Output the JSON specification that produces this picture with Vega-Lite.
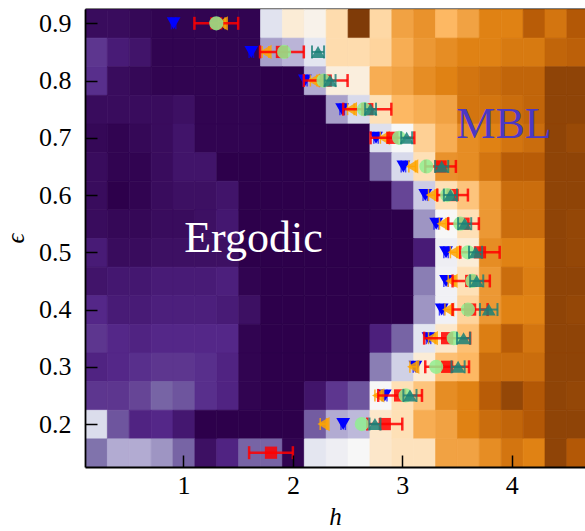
{
  "$schema": "https://vega.github.io/schema/vega-lite/v6.json",
  "width": 500,
  "height": 458,
  "autosize": {"type": "none"},
  "padding": {"left": 85, "top": 9, "right": 0, "bottom": 64},
  "config": {
    "view": {"stroke": null},
    "axis": {"grid": false, "labelFont": "Liberation Serif", "titleFont": "Liberation Serif", "labelFontSize": 26, "titleFontSize": 25, "labelColor": "black", "tickColor": "black", "domainColor": "black", "tickWidth": 1.5, "domainWidth": 1.8, "titleFontWeight": "normal"}
  },
  "datasets": {
    "pts": [
      {"s":"blue","e":0.9,"h":0.91,"err":0.02},{"s":"blue","e":0.85,"h":1.62,"err":0.02},{"s":"blue","e":0.8,"h":2.11,"err":0.02},{"s":"blue","e":0.75,"h":2.45,"err":0.02},{"s":"blue","e":0.7,"h":2.76,"err":0.02},{"s":"blue","e":0.65,"h":3.01,"err":0.02},{"s":"blue","e":0.6,"h":3.21,"err":0.02},{"s":"blue","e":0.55,"h":3.31,"err":0.02},{"s":"blue","e":0.5,"h":3.40,"err":0.02},{"s":"blue","e":0.45,"h":3.40,"err":0.02},{"s":"blue","e":0.4,"h":3.36,"err":0.02},{"s":"blue","e":0.35,"h":3.24,"err":0.02},{"s":"blue","e":0.3,"h":3.12,"err":0.02},{"s":"blue","e":0.25,"h":2.84,"err":0.02},{"s":"blue","e":0.2,"h":2.46,"err":0.02},
      {"s":"orange","e":0.9,"h":1.35,"err":0.03},{"s":"orange","e":0.85,"h":1.75,"err":0.03},{"s":"orange","e":0.8,"h":2.19,"err":0.03},{"s":"orange","e":0.75,"h":2.53,"err":0.03},{"s":"orange","e":0.7,"h":2.83,"err":0.03},{"s":"orange","e":0.65,"h":3.09,"err":0.03},{"s":"orange","e":0.6,"h":3.27,"err":0.03},{"s":"orange","e":0.55,"h":3.37,"err":0.03},{"s":"orange","e":0.5,"h":3.47,"err":0.03},{"s":"orange","e":0.45,"h":3.45,"err":0.03},{"s":"orange","e":0.4,"h":3.42,"err":0.03},{"s":"orange","e":0.35,"h":3.27,"err":0.03},{"s":"orange","e":0.3,"h":3.10,"err":0.03},{"s":"orange","e":0.25,"h":2.78,"err":0.03},{"s":"orange","e":0.2,"h":2.28,"err":0.03},
      {"s":"red","e":0.9,"h":1.30,"err":0.2},{"s":"red","e":0.85,"h":1.90,"err":0.2},{"s":"red","e":0.8,"h":2.30,"err":0.2},{"s":"red","e":0.75,"h":2.68,"err":0.22},{"s":"red","e":0.7,"h":2.91,"err":0.2},{"s":"red","e":0.65,"h":3.35,"err":0.14},{"s":"red","e":0.6,"h":3.46,"err":0.14},{"s":"red","e":0.55,"h":3.56,"err":0.14},{"s":"red","e":0.5,"h":3.71,"err":0.18},{"s":"red","e":0.45,"h":3.63,"err":0.17},{"s":"red","e":0.4,"h":3.62,"err":0.16},{"s":"red","e":0.35,"h":3.41,"err":0.21},{"s":"red","e":0.3,"h":3.41,"err":0.2},{"s":"red","e":0.25,"h":2.98,"err":0.2},{"s":"red","e":0.2,"h":2.84,"err":0.16},{"s":"red","e":0.15,"h":1.80,"err":0.2},
      {"s":"green","e":0.9,"h":1.30},{"s":"green","e":0.85,"h":1.92},{"s":"green","e":0.8,"h":2.28},{"s":"green","e":0.75,"h":2.65},{"s":"green","e":0.7,"h":2.97},{"s":"green","e":0.65,"h":3.22},{"s":"green","e":0.6,"h":3.41},{"s":"green","e":0.55,"h":3.53},{"s":"green","e":0.5,"h":3.60},{"s":"green","e":0.45,"h":3.64},{"s":"green","e":0.4,"h":3.60},{"s":"green","e":0.35,"h":3.47},{"s":"green","e":0.3,"h":3.31},{"s":"green","e":0.25,"h":3.03},{"s":"green","e":0.2,"h":2.63},
      {"s":"teal","e":0.85,"h":2.23,"err":0.055},{"s":"teal","e":0.8,"h":2.34,"err":0.05},{"s":"teal","e":0.75,"h":2.71,"err":0.05},{"s":"teal","e":0.7,"h":3.04,"err":0.05},{"s":"teal","e":0.65,"h":3.36,"err":0.06},{"s":"teal","e":0.6,"h":3.44,"err":0.06},{"s":"teal","e":0.55,"h":3.57,"err":0.06},{"s":"teal","e":0.5,"h":3.67,"err":0.06},{"s":"teal","e":0.45,"h":3.68,"err":0.06},{"s":"teal","e":0.4,"h":3.79,"err":0.08},{"s":"teal","e":0.35,"h":3.56,"err":0.06},{"s":"teal","e":0.3,"h":3.51,"err":0.06},{"s":"teal","e":0.25,"h":3.07,"err":0.06},{"s":"teal","e":0.2,"h":2.75,"err":0.05}
    ],
    "labels": [
      {"label":"Ergodic","h":1.64,"e":0.5,"c":"w"},
      {"label":"MBL","h":3.93,"e":0.7,"c":"b"}
    ],
    "cells": [
{"e":0.9,"h":0.2,"v":0.03},{"e":0.9,"h":0.4,"v":0.03},{"e":0.9,"h":0.6,"v":0.02},{"e":0.9,"h":0.8,"v":0.01},{"e":0.9,"h":1.0,"v":0.01},{"e":0.9,"h":1.2,"v":0.01},{"e":0.9,"h":1.4,"v":0.01},{"e":0.9,"h":1.6,"v":0.01},{"e":0.9,"h":1.8,"v":0.43},{"e":0.9,"h":2.0,"v":0.55},{"e":0.9,"h":2.2,"v":0.52},{"e":0.9,"h":2.4,"v":0.61},{"e":0.9,"h":2.6,"v":1.0},{"e":0.9,"h":2.8,"v":0.62},{"e":0.9,"h":3.0,"v":0.74},{"e":0.9,"h":3.2,"v":0.77},{"e":0.9,"h":3.4,"v":0.70},{"e":0.9,"h":3.6,"v":0.74},{"e":0.9,"h":3.8,"v":0.80},{"e":0.9,"h":4.0,"v":0.80},{"e":0.9,"h":4.2,"v":0.89},{"e":0.9,"h":4.4,"v":0.83},{"e":0.9,"h":4.6,"v":0.90},
{"e":0.85,"h":0.2,"v":0.12},{"e":0.85,"h":0.4,"v":0.07},{"e":0.85,"h":0.6,"v":0.05},{"e":0.85,"h":0.8,"v":0.01},{"e":0.85,"h":1.0,"v":0.01},{"e":0.85,"h":1.2,"v":0.01},{"e":0.85,"h":1.4,"v":0.01},{"e":0.85,"h":1.6,"v":0.01},{"e":0.85,"h":1.8,"v":0.28},{"e":0.85,"h":2.0,"v":0.32},{"e":0.85,"h":2.2,"v":0.44},{"e":0.85,"h":2.4,"v":0.61},{"e":0.85,"h":2.6,"v":0.61},{"e":0.85,"h":2.8,"v":0.63},{"e":0.85,"h":3.0,"v":0.72},{"e":0.85,"h":3.2,"v":0.76},{"e":0.85,"h":3.4,"v":0.78},{"e":0.85,"h":3.6,"v":0.80},{"e":0.85,"h":3.8,"v":0.80},{"e":0.85,"h":4.0,"v":0.82},{"e":0.85,"h":4.2,"v":0.82},{"e":0.85,"h":4.4,"v":0.87},{"e":0.85,"h":4.6,"v":0.88},
{"e":0.8,"h":0.2,"v":0.11},{"e":0.8,"h":0.4,"v":0.03},{"e":0.8,"h":0.6,"v":0.02},{"e":0.8,"h":0.8,"v":0.01},{"e":0.8,"h":1.0,"v":0.01},{"e":0.8,"h":1.2,"v":0.01},{"e":0.8,"h":1.4,"v":0.01},{"e":0.8,"h":1.6,"v":0.01},{"e":0.8,"h":1.8,"v":0.0},{"e":0.8,"h":2.0,"v":0.0},{"e":0.8,"h":2.2,"v":0.30},{"e":0.8,"h":2.4,"v":0.54},{"e":0.8,"h":2.6,"v":0.54},{"e":0.8,"h":2.8,"v":0.72},{"e":0.8,"h":3.0,"v":0.74},{"e":0.8,"h":3.2,"v":0.78},{"e":0.8,"h":3.4,"v":0.80},{"e":0.8,"h":3.6,"v":0.83},{"e":0.8,"h":3.8,"v":0.85},{"e":0.8,"h":4.0,"v":0.87},{"e":0.8,"h":4.2,"v":0.87},{"e":0.8,"h":4.4,"v":0.97},{"e":0.8,"h":4.6,"v":0.97},
{"e":0.75,"h":0.2,"v":0.03},{"e":0.75,"h":0.4,"v":0.03},{"e":0.75,"h":0.6,"v":0.03},{"e":0.75,"h":0.8,"v":0.03},{"e":0.75,"h":1.0,"v":0.04},{"e":0.75,"h":1.2,"v":0.01},{"e":0.75,"h":1.4,"v":0.01},{"e":0.75,"h":1.6,"v":0.01},{"e":0.75,"h":1.8,"v":0.0},{"e":0.75,"h":2.0,"v":0.0},{"e":0.75,"h":2.2,"v":0.0},{"e":0.75,"h":2.4,"v":0.28},{"e":0.75,"h":2.6,"v":0.40},{"e":0.75,"h":2.8,"v":0.60},{"e":0.75,"h":3.0,"v":0.70},{"e":0.75,"h":3.2,"v":0.72},{"e":0.75,"h":3.4,"v":0.74},{"e":0.75,"h":3.6,"v":0.83},{"e":0.75,"h":3.8,"v":0.83},{"e":0.75,"h":4.0,"v":0.85},{"e":0.75,"h":4.2,"v":0.87},{"e":0.75,"h":4.4,"v":0.97},{"e":0.75,"h":4.6,"v":0.97},
{"e":0.7,"h":0.2,"v":0.02},{"e":0.7,"h":0.4,"v":0.01},{"e":0.7,"h":0.6,"v":0.02},{"e":0.7,"h":0.8,"v":0.03},{"e":0.7,"h":1.0,"v":0.05},{"e":0.7,"h":1.2,"v":0.01},{"e":0.7,"h":1.4,"v":0.01},{"e":0.7,"h":1.6,"v":0.01},{"e":0.7,"h":1.8,"v":0.0},{"e":0.7,"h":2.0,"v":0.0},{"e":0.7,"h":2.2,"v":0.0},{"e":0.7,"h":2.4,"v":0.0},{"e":0.7,"h":2.6,"v":0.0},{"e":0.7,"h":2.8,"v":0.42},{"e":0.7,"h":3.0,"v":0.50},{"e":0.7,"h":3.2,"v":0.64},{"e":0.7,"h":3.4,"v":0.72},{"e":0.7,"h":3.6,"v":0.78},{"e":0.7,"h":3.8,"v":0.80},{"e":0.7,"h":4.0,"v":0.83},{"e":0.7,"h":4.2,"v":0.85},{"e":0.7,"h":4.4,"v":0.97},{"e":0.7,"h":4.6,"v":0.95},
{"e":0.65,"h":0.2,"v":0.03},{"e":0.65,"h":0.4,"v":0.01},{"e":0.65,"h":0.6,"v":0.01},{"e":0.65,"h":0.8,"v":0.03},{"e":0.65,"h":1.0,"v":0.05},{"e":0.65,"h":1.2,"v":0.05},{"e":0.65,"h":1.4,"v":0.0},{"e":0.65,"h":1.6,"v":0.0},{"e":0.65,"h":1.8,"v":0.0},{"e":0.65,"h":2.0,"v":0.0},{"e":0.65,"h":2.2,"v":0.0},{"e":0.65,"h":2.4,"v":0.0},{"e":0.65,"h":2.6,"v":0.0},{"e":0.65,"h":2.8,"v":0.19},{"e":0.65,"h":3.0,"v":0.40},{"e":0.65,"h":3.2,"v":0.60},{"e":0.65,"h":3.4,"v":0.77},{"e":0.65,"h":3.6,"v":0.78},{"e":0.65,"h":3.8,"v":0.83},{"e":0.65,"h":4.0,"v":0.89},{"e":0.65,"h":4.2,"v":0.89},{"e":0.65,"h":4.4,"v":0.97},{"e":0.65,"h":4.6,"v":0.97},
{"e":0.6,"h":0.2,"v":0.03},{"e":0.6,"h":0.4,"v":0.0},{"e":0.6,"h":0.6,"v":0.01},{"e":0.6,"h":0.8,"v":0.03},{"e":0.6,"h":1.0,"v":0.04},{"e":0.6,"h":1.2,"v":0.04},{"e":0.6,"h":1.4,"v":0.05},{"e":0.6,"h":1.6,"v":0.0},{"e":0.6,"h":1.8,"v":0.0},{"e":0.6,"h":2.0,"v":0.0},{"e":0.6,"h":2.2,"v":0.0},{"e":0.6,"h":2.4,"v":0.0},{"e":0.6,"h":2.6,"v":0.0},{"e":0.6,"h":2.8,"v":0.0},{"e":0.6,"h":3.0,"v":0.14},{"e":0.6,"h":3.2,"v":0.37},{"e":0.6,"h":3.4,"v":0.60},{"e":0.6,"h":3.6,"v":0.67},{"e":0.6,"h":3.8,"v":0.76},{"e":0.6,"h":4.0,"v":0.85},{"e":0.6,"h":4.2,"v":0.85},{"e":0.6,"h":4.4,"v":0.97},{"e":0.6,"h":4.6,"v":0.97},
{"e":0.55,"h":0.2,"v":0.03},{"e":0.55,"h":0.4,"v":0.02},{"e":0.55,"h":0.6,"v":0.02},{"e":0.55,"h":0.8,"v":0.03},{"e":0.55,"h":1.0,"v":0.03},{"e":0.55,"h":1.2,"v":0.04},{"e":0.55,"h":1.4,"v":0.06},{"e":0.55,"h":1.6,"v":0.0},{"e":0.55,"h":1.8,"v":0.0},{"e":0.55,"h":2.0,"v":0.0},{"e":0.55,"h":2.2,"v":0.0},{"e":0.55,"h":2.4,"v":0.0},{"e":0.55,"h":2.6,"v":0.0},{"e":0.55,"h":2.8,"v":0.0},{"e":0.55,"h":3.0,"v":0.0},{"e":0.55,"h":3.2,"v":0.26},{"e":0.55,"h":3.4,"v":0.50},{"e":0.55,"h":3.6,"v":0.60},{"e":0.55,"h":3.8,"v":0.76},{"e":0.55,"h":4.0,"v":0.85},{"e":0.55,"h":4.2,"v":0.85},{"e":0.55,"h":4.4,"v":0.97},{"e":0.55,"h":4.6,"v":0.96},
{"e":0.5,"h":0.2,"v":0.07},{"e":0.5,"h":0.4,"v":0.03},{"e":0.5,"h":0.6,"v":0.03},{"e":0.5,"h":0.8,"v":0.04},{"e":0.5,"h":1.0,"v":0.04},{"e":0.5,"h":1.2,"v":0.04},{"e":0.5,"h":1.4,"v":0.04},{"e":0.5,"h":1.6,"v":0.0},{"e":0.5,"h":1.8,"v":0.0},{"e":0.5,"h":2.0,"v":0.0},{"e":0.5,"h":2.2,"v":0.0},{"e":0.5,"h":2.4,"v":0.0},{"e":0.5,"h":2.6,"v":0.0},{"e":0.5,"h":2.8,"v":0.0},{"e":0.5,"h":3.0,"v":0.0},{"e":0.5,"h":3.2,"v":0.07},{"e":0.5,"h":3.4,"v":0.47},{"e":0.5,"h":3.6,"v":0.55},{"e":0.5,"h":3.8,"v":0.78},{"e":0.5,"h":4.0,"v":0.80},{"e":0.5,"h":4.2,"v":0.80},{"e":0.5,"h":4.4,"v":0.97},{"e":0.5,"h":4.6,"v":0.96},
{"e":0.45,"h":0.2,"v":0.05},{"e":0.45,"h":0.4,"v":0.06},{"e":0.45,"h":0.6,"v":0.06},{"e":0.45,"h":0.8,"v":0.07},{"e":0.45,"h":1.0,"v":0.07},{"e":0.45,"h":1.2,"v":0.07},{"e":0.45,"h":1.4,"v":0.08},{"e":0.45,"h":1.6,"v":0.01},{"e":0.45,"h":1.8,"v":0.0},{"e":0.45,"h":2.0,"v":0.0},{"e":0.45,"h":2.2,"v":0.0},{"e":0.45,"h":2.4,"v":0.0},{"e":0.45,"h":2.6,"v":0.0},{"e":0.45,"h":2.8,"v":0.0},{"e":0.45,"h":3.0,"v":0.0},{"e":0.45,"h":3.2,"v":0.22},{"e":0.45,"h":3.4,"v":0.48},{"e":0.45,"h":3.6,"v":0.60},{"e":0.45,"h":3.8,"v":0.76},{"e":0.45,"h":4.0,"v":0.85},{"e":0.45,"h":4.2,"v":0.81},{"e":0.45,"h":4.4,"v":0.97},{"e":0.45,"h":4.6,"v":0.97},
{"e":0.4,"h":0.2,"v":0.10},{"e":0.4,"h":0.4,"v":0.07},{"e":0.4,"h":0.6,"v":0.07},{"e":0.4,"h":0.8,"v":0.08},{"e":0.4,"h":1.0,"v":0.08},{"e":0.4,"h":1.2,"v":0.08},{"e":0.4,"h":1.4,"v":0.07},{"e":0.4,"h":1.6,"v":0.04},{"e":0.4,"h":1.8,"v":0.0},{"e":0.4,"h":2.0,"v":0.0},{"e":0.4,"h":2.2,"v":0.0},{"e":0.4,"h":2.4,"v":0.0},{"e":0.4,"h":2.6,"v":0.0},{"e":0.4,"h":2.8,"v":0.0},{"e":0.4,"h":3.0,"v":0.0},{"e":0.4,"h":3.2,"v":0.26},{"e":0.4,"h":3.4,"v":0.48},{"e":0.4,"h":3.6,"v":0.63},{"e":0.4,"h":3.8,"v":0.76},{"e":0.4,"h":4.0,"v":0.80},{"e":0.4,"h":4.2,"v":0.80},{"e":0.4,"h":4.4,"v":0.97},{"e":0.4,"h":4.6,"v":0.96},
{"e":0.35,"h":0.2,"v":0.12},{"e":0.35,"h":0.4,"v":0.10},{"e":0.35,"h":0.6,"v":0.09},{"e":0.35,"h":0.8,"v":0.10},{"e":0.35,"h":1.0,"v":0.10},{"e":0.35,"h":1.2,"v":0.10},{"e":0.35,"h":1.4,"v":0.10},{"e":0.35,"h":1.6,"v":0.01},{"e":0.35,"h":1.8,"v":0.0},{"e":0.35,"h":2.0,"v":0.0},{"e":0.35,"h":2.2,"v":0.0},{"e":0.35,"h":2.4,"v":0.0},{"e":0.35,"h":2.6,"v":0.0},{"e":0.35,"h":2.8,"v":0.08},{"e":0.35,"h":3.0,"v":0.18},{"e":0.35,"h":3.2,"v":0.44},{"e":0.35,"h":3.4,"v":0.57},{"e":0.35,"h":3.6,"v":0.68},{"e":0.35,"h":3.8,"v":0.81},{"e":0.35,"h":4.0,"v":0.89},{"e":0.35,"h":4.2,"v":0.83},{"e":0.35,"h":4.4,"v":0.97},{"e":0.35,"h":4.6,"v":0.97},
{"e":0.3,"h":0.2,"v":0.09},{"e":0.3,"h":0.4,"v":0.10},{"e":0.3,"h":0.6,"v":0.11},{"e":0.3,"h":0.8,"v":0.12},{"e":0.3,"h":1.0,"v":0.12},{"e":0.3,"h":1.2,"v":0.11},{"e":0.3,"h":1.4,"v":0.09},{"e":0.3,"h":1.6,"v":0.01},{"e":0.3,"h":1.8,"v":0.0},{"e":0.3,"h":2.0,"v":0.0},{"e":0.3,"h":2.2,"v":0.0},{"e":0.3,"h":2.4,"v":0.0},{"e":0.3,"h":2.6,"v":0.0},{"e":0.3,"h":2.8,"v":0.22},{"e":0.3,"h":3.0,"v":0.38},{"e":0.3,"h":3.2,"v":0.55},{"e":0.3,"h":3.4,"v":0.68},{"e":0.3,"h":3.6,"v":0.70},{"e":0.3,"h":3.8,"v":0.85},{"e":0.3,"h":4.0,"v":0.85},{"e":0.3,"h":4.2,"v":0.85},{"e":0.3,"h":4.4,"v":0.97},{"e":0.3,"h":4.6,"v":0.97},
{"e":0.25,"h":0.2,"v":0.12},{"e":0.25,"h":0.4,"v":0.12},{"e":0.25,"h":0.6,"v":0.14},{"e":0.25,"h":0.8,"v":0.18},{"e":0.25,"h":1.0,"v":0.16},{"e":0.25,"h":1.2,"v":0.11},{"e":0.25,"h":1.4,"v":0.09},{"e":0.25,"h":1.6,"v":0.01},{"e":0.25,"h":1.8,"v":0.0},{"e":0.25,"h":2.0,"v":0.0},{"e":0.25,"h":2.2,"v":0.05},{"e":0.25,"h":2.4,"v":0.12},{"e":0.25,"h":2.6,"v":0.16},{"e":0.25,"h":2.8,"v":0.50},{"e":0.25,"h":3.0,"v":0.60},{"e":0.25,"h":3.2,"v":0.67},{"e":0.25,"h":3.4,"v":0.78},{"e":0.25,"h":3.6,"v":0.80},{"e":0.25,"h":3.8,"v":0.89},{"e":0.25,"h":4.0,"v":0.96},{"e":0.25,"h":4.2,"v":0.90},{"e":0.25,"h":4.4,"v":0.97},{"e":0.25,"h":4.6,"v":0.96},
{"e":0.2,"h":0.2,"v":0.41},{"e":0.2,"h":0.4,"v":0.16},{"e":0.2,"h":0.6,"v":0.09},{"e":0.2,"h":0.8,"v":0.10},{"e":0.2,"h":1.0,"v":0.06},{"e":0.2,"h":1.2,"v":0.0},{"e":0.2,"h":1.4,"v":0.0},{"e":0.2,"h":1.6,"v":0.0},{"e":0.2,"h":1.8,"v":0.0},{"e":0.2,"h":2.0,"v":0.0},{"e":0.2,"h":2.2,"v":0.17},{"e":0.2,"h":2.4,"v":0.30},{"e":0.2,"h":2.6,"v":0.33},{"e":0.2,"h":2.8,"v":0.57},{"e":0.2,"h":3.0,"v":0.60},{"e":0.2,"h":3.2,"v":0.72},{"e":0.2,"h":3.4,"v":0.74},{"e":0.2,"h":3.6,"v":0.80},{"e":0.2,"h":3.8,"v":0.85},{"e":0.2,"h":4.0,"v":0.87},{"e":0.2,"h":4.2,"v":0.90},{"e":0.2,"h":4.4,"v":0.97},{"e":0.2,"h":4.6,"v":0.97},
{"e":0.15,"h":0.2,"v":0.20},{"e":0.15,"h":0.4,"v":0.30},{"e":0.15,"h":0.6,"v":0.30},{"e":0.15,"h":0.8,"v":0.26},{"e":0.15,"h":1.0,"v":0.18},{"e":0.15,"h":1.2,"v":0.04},{"e":0.15,"h":1.4,"v":0.09},{"e":0.15,"h":1.6,"v":0.18},{"e":0.15,"h":1.8,"v":0.18},{"e":0.15,"h":2.0,"v":0.01},{"e":0.15,"h":2.2,"v":0.44},{"e":0.15,"h":2.4,"v":0.47},{"e":0.15,"h":2.6,"v":0.50},{"e":0.15,"h":2.8,"v":0.57},{"e":0.15,"h":3.0,"v":0.59},{"e":0.15,"h":3.2,"v":0.59},{"e":0.15,"h":3.4,"v":0.74},{"e":0.15,"h":3.6,"v":0.74},{"e":0.15,"h":3.8,"v":0.78},{"e":0.15,"h":4.0,"v":0.83},{"e":0.15,"h":4.2,"v":0.80},{"e":0.15,"h":4.4,"v":0.97},{"e":0.15,"h":4.6,"v":0.90}
    ]
  },
  "layer": [
    {
      "data": {"name": "cells"},
      "mark": {"type": "rect", "clip": true, "strokeWidth": 0.7},
      "encoding": {
        "x": {"field": "h", "type": "quantitative", "bin": {"step": 0.2, "extent": [0.1, 4.7], "nice": false},
          "scale": {"domain": [0.1, 4.67], "nice": false, "zero": false},
          "axis": {"orient": "bottom", "values": [1, 2, 3, 4], "format": "d", "tickSize": -12, "labelPadding": 17, "title": "h", "titleFontStyle": "italic", "titleY": 57, "titleBaseline": "alphabetic"}},
        "y": {"field": "e", "type": "quantitative", "bin": {"step": 0.05, "extent": [0.125, 0.925], "nice": false},
          "scale": {"domain": [0.125, 0.925], "nice": false, "zero": false},
          "axis": {"orient": "left", "values": [0.2, 0.3, 0.4, 0.5, 0.6, 0.7, 0.8, 0.9], "format": ".1f", "tickSize": -12, "labelPadding": 26, "title": "ϵ", "titleFontStyle": "italic", "titleX": -57, "titleAngle": -90}},
        "color": {"field": "v", "type": "quantitative", "legend": null,
          "scale": {"domain": [0, 0.1, 0.2, 0.3, 0.4, 0.5, 0.6, 0.7, 0.8, 0.9, 1.0],
            "range": ["#2d004b", "#542788", "#8073ac", "#b2abd2", "#d8daeb", "#f7f7f7", "#fee0b6", "#fdb863", "#e08214", "#b35806", "#7f3b08"], "interpolate": "rgb"}},
        "stroke": {"field": "v", "type": "quantitative", "legend": null,
          "scale": {"domain": [0, 0.1, 0.2, 0.3, 0.4, 0.5, 0.6, 0.7, 0.8, 0.9, 1.0],
            "range": ["#2d004b", "#542788", "#8073ac", "#b2abd2", "#d8daeb", "#f7f7f7", "#fee0b6", "#fdb863", "#e08214", "#b35806", "#7f3b08"], "interpolate": "rgb"}}
      }
    },
    {
      "data": {"name": "pts"},
      "transform": [{"filter": "datum.s == 'blue'"}],
      "mark": {"type": "errorbar", "ticks": {"size": 12}, "color": "#0000ff", "thickness": 1.5},
      "encoding": {"x": {"field": "h", "type": "quantitative", "axis": null}, "xError": {"field": "err"}, "y": {"field": "e", "type": "quantitative", "axis": null}}
    },
    {
      "data": {"name": "pts"},
      "transform": [{"filter": "datum.s == 'blue'"}],
      "mark": {"type": "point", "shape": "triangle-down", "filled": true, "color": "#0000ff", "size": 190, "opacity": 1},
      "encoding": {"x": {"field": "h", "type": "quantitative", "axis": null}, "y": {"field": "e", "type": "quantitative", "axis": null}}
    },
    {
      "data": {"name": "pts"},
      "transform": [{"filter": "datum.s == 'orange'"}],
      "mark": {"type": "errorbar", "ticks": {"size": 12}, "color": "#ffa500", "thickness": 1.5, "opacity": 0.85},
      "encoding": {"x": {"field": "h", "type": "quantitative", "axis": null}, "xError": {"field": "err"}, "y": {"field": "e", "type": "quantitative", "axis": null}}
    },
    {
      "data": {"name": "pts"},
      "transform": [{"filter": "datum.s == 'orange'"}],
      "mark": {"type": "point", "shape": "triangle-left", "filled": true, "color": "#ffa500", "size": 200, "opacity": 0.85},
      "encoding": {"x": {"field": "h", "type": "quantitative", "axis": null}, "y": {"field": "e", "type": "quantitative", "axis": null}}
    },
    {
      "data": {"name": "pts"},
      "transform": [{"filter": "datum.s == 'red'"}],
      "mark": {"type": "errorbar", "ticks": {"size": 13}, "color": "#ff0000", "thickness": 2.5, "opacity": 0.85},
      "encoding": {"x": {"field": "h", "type": "quantitative", "axis": null}, "xError": {"field": "err"}, "y": {"field": "e", "type": "quantitative", "axis": null}}
    },
    {
      "data": {"name": "pts"},
      "transform": [{"filter": "datum.s == 'red'"}],
      "mark": {"type": "point", "shape": "square", "filled": true, "color": "#ff0000", "size": 150, "opacity": 0.85},
      "encoding": {"x": {"field": "h", "type": "quantitative", "axis": null}, "y": {"field": "e", "type": "quantitative", "axis": null}}
    },
    {
      "data": {"name": "pts"},
      "transform": [{"filter": "datum.s == 'green'"}],
      "mark": {"type": "point", "shape": "circle", "filled": true, "color": "#90ee90", "size": 200, "opacity": 0.85},
      "encoding": {"x": {"field": "h", "type": "quantitative", "axis": null}, "y": {"field": "e", "type": "quantitative", "axis": null}}
    },
    {
      "data": {"name": "pts"},
      "transform": [{"filter": "datum.s == 'teal'"}],
      "mark": {"type": "errorbar", "ticks": {"size": 13}, "color": "#1a8078", "thickness": 2, "opacity": 0.8},
      "encoding": {"x": {"field": "h", "type": "quantitative", "axis": null}, "xError": {"field": "err"}, "y": {"field": "e", "type": "quantitative", "axis": null}}
    },
    {
      "data": {"name": "pts"},
      "transform": [{"filter": "datum.s == 'teal'"}],
      "mark": {"type": "point", "shape": "triangle-up", "filled": true, "color": "#1a8078", "size": 190, "opacity": 0.85},
      "encoding": {"x": {"field": "h", "type": "quantitative", "axis": null}, "y": {"field": "e", "type": "quantitative", "axis": null}}
    },
    {
      "data": {"name": "labels"},
      "transform": [{"filter": "datum.c == 'w'"}],
      "mark": {"type": "text", "font": "Liberation Serif", "fontSize": 44, "color": "white", "baseline": "alphabetic", "align": "center"},
      "encoding": {"x": {"field": "h", "type": "quantitative", "axis": null}, "y": {"field": "e", "type": "quantitative", "axis": null}, "text": {"field": "label"}}
    },
    {
      "data": {"name": "labels"},
      "transform": [{"filter": "datum.c == 'b'"}],
      "mark": {"type": "text", "font": "Liberation Serif", "fontSize": 44, "color": "#4b38c4", "baseline": "alphabetic", "align": "center"},
      "encoding": {
        "x": {"field": "h", "type": "quantitative", "axis": {"orient": "top", "values": [1, 2, 3, 4], "labels": false, "tickSize": -12, "title": null, "domain": true}},
        "y": {"field": "e", "type": "quantitative", "axis": {"orient": "right", "values": [0.2, 0.3, 0.4, 0.5, 0.6, 0.7, 0.8, 0.9], "labels": false, "tickSize": -9, "title": null, "domain": false}},
        "text": {"field": "label"}}
    }
  ],
  "resolve": {"axis": {"x": "independent", "y": "independent"}}
}
